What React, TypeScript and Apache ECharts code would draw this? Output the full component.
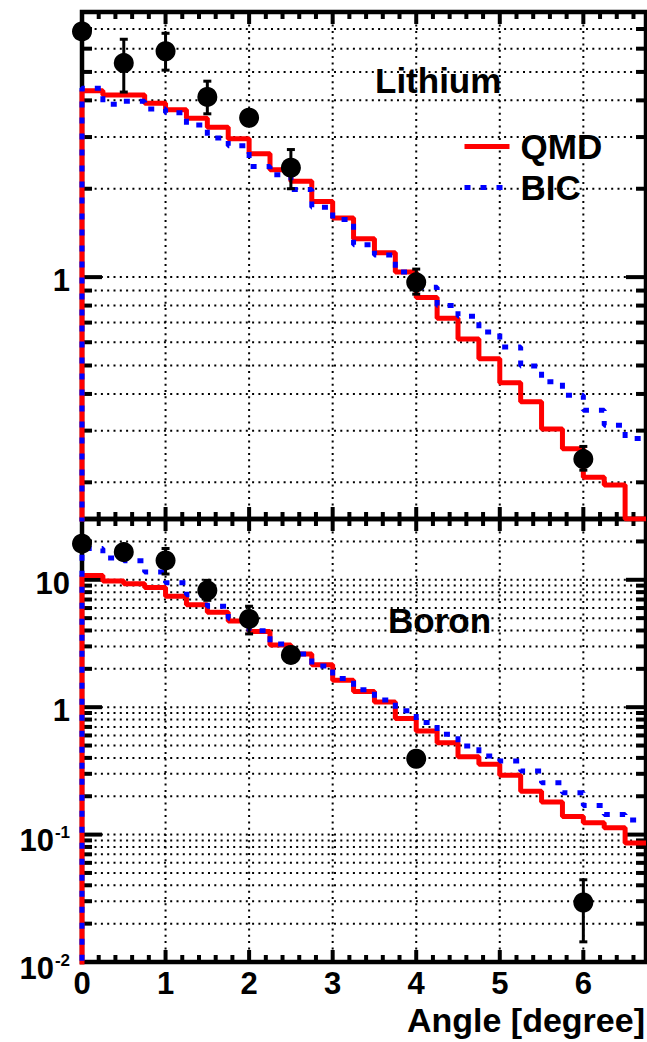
import React, { useEffect, useRef } from 'react';
import * as echarts from 'echarts';

const FONT = '"Liberation Sans", Arial, Helvetica, sans-serif';

// Bin edges of the histograms (degree)
const BIN_EDGES = [0, 0.25, 0.5, 0.75, 1, 1.25, 1.5, 1.75, 2, 2.25, 2.5, 2.75, 3, 3.25, 3.5, 3.75, 4, 4.25, 4.5, 4.75, 5, 5.25, 5.5, 5.75, 6, 6.25, 6.5, 6.75];

// Lithium panel
const LI_QMD = [4.31, 4.17, 4.17, 3.91, 3.72, 3.48, 3.24, 2.96, 2.63, 2.32, 2.12, 1.81, 1.59, 1.35, 1.21, 1.04, 0.853, 0.724, 0.616, 0.527, 0.437, 0.376, 0.304, 0.26, 0.208, 0.196, 0.15];
const LI_BIC = [4.4, 3.88, 3.97, 3.74, 3.63, 3.3, 2.98, 2.8, 2.38, 2.23, 1.99, 1.73, 1.57, 1.29, 1.19, 1.04, 0.923, 0.8, 0.736, 0.65, 0.578, 0.498, 0.44, 0.396, 0.352, 0.313, 0.282];
const LI_DATA_X = [0, 0.5, 1, 1.5, 2, 2.5, 4, 6];
const LI_DATA_Y = [6.87, 5.36, 5.88, 4.11, 3.49, 2.36, 0.96, 0.24];
const LI_DATA_LO = [6.6, 4.27, 5.07, 3.6, 3.35, 2.0, 0.875, 0.22];
const LI_DATA_HI = [7.1, 6.46, 6.77, 4.65, 3.65, 2.72, 1.065, 0.265];

// Boron panel
const B_QMD = [10.8, 9.8, 9.3, 8.7, 7.44, 6.37, 5.56, 4.74, 3.92, 3.08, 2.61, 2.15, 1.63, 1.33, 1.1, 0.814, 0.651, 0.527, 0.409, 0.356, 0.292, 0.219, 0.18, 0.139, 0.124, 0.113, 0.086];
const B_BIC = [17.6, 14.8, 14.1, 11.5, 9.47, 7.62, 6.21, 4.99, 3.99, 3.13, 2.61, 2.11, 1.68, 1.37, 1.14, 0.936, 0.757, 0.613, 0.496, 0.414, 0.378, 0.315, 0.255, 0.213, 0.169, 0.144, 0.13];
const B_DATA_X = [0, 0.5, 1, 1.5, 2, 2.5, 4, 6];
const B_DATA_Y = [19.2, 16.5, 14.2, 8.24, 4.93, 2.57, 0.394, 0.0293];
const B_DATA_LO = [18.6, 15.6, 11.1, 6.9, 3.76, 2.45, 0.38, 0.0144];
const B_DATA_HI = [19.8, 17.5, 17.6, 9.9, 6.2, 2.72, 0.41, 0.0442];

// Axis ticks / grid
const X_LABELS = [0, 1, 2, 3, 4, 5, 6];
const X_MAJOR_TICKS = [0, 1, 2, 3, 4, 5, 6];
const X_MINOR_TICKS = [0.2, 0.4, 0.6, 0.8, 1.2, 1.4, 1.6, 1.8, 2.2, 2.4, 2.6, 2.8, 3.2, 3.4, 3.6, 3.8, 4.2, 4.4, 4.6, 4.8, 5.2, 5.4, 5.6, 5.8, 6.2, 6.4, 6.6];
const X_GRID = [1, 2, 3, 4, 5, 6];
const LI_Y_MAJOR = [1];
const LI_Y_MINOR = [0.2, 0.3, 0.4, 0.5, 0.6, 0.7, 0.8, 0.9, 2, 3, 4, 5, 6, 7];
const LI_GRID_Y = [0.2, 0.3, 0.4, 0.5, 0.6, 0.7, 0.8, 0.9, 1, 2, 3, 4, 5, 6, 7];
const B_Y_MAJOR = [0.01, 0.1, 1, 10];
const B_Y_MINOR = [0.02, 0.03, 0.04, 0.05, 0.06, 0.07, 0.08, 0.09, 0.2, 0.3, 0.4, 0.5, 0.6, 0.7, 0.8, 0.9, 2, 3, 4, 5, 6, 7, 8, 9, 20];
const B_GRID_Y = [0.02, 0.03, 0.04, 0.05, 0.06, 0.07, 0.08, 0.09, 0.1, 0.2, 0.3, 0.4, 0.5, 0.6, 0.7, 0.8, 0.9, 1, 2, 3, 4, 5, 6, 7, 8, 9, 10, 20];

function stepData(values: number[]) {
  const pts: number[][] = [[0, 1e-4]];
  values.forEach((v, i) => pts.push([BIN_EDGES[i], v]));
  pts.push([BIN_EDGES[values.length], values[values.length - 1]]);
  return pts;
}

function frameItems(yMajor: number[], yMinor: number[], gridY: number[]) {
  const items: number[][] = [];
  gridY.forEach((y) => items.push([1, y, 0]));
  X_GRID.forEach((x) => items.push([x, 1, 1]));
  yMajor.forEach((y) => items.push([1, y, 2]));
  yMinor.forEach((y) => items.push([1, y, 3]));
  X_MAJOR_TICKS.forEach((x) => items.push([x, 1, 4]));
  X_MINOR_TICKS.forEach((x) => items.push([x, 1, 5]));
  return items;
}

const frameRender = (params: any, api: any) => {
  const cs = params.coordSys;
  const left = cs.x, right = cs.x + cs.width, top = cs.y, bottom = cs.y + cs.height;
  const kind = api.value(2);
  const dotted = { stroke: '#000', lineWidth: 2, lineDash: [2, 4.3] };
  const tick = { stroke: '#000', lineWidth: 4 };
  if (kind === 0) {
    const p = api.coord([1, api.value(1)]);
    return { type: 'line', shape: { x1: left, y1: p[1], x2: right, y2: p[1] }, style: dotted };
  }
  if (kind === 1) {
    const p = api.coord([api.value(0), 1]);
    return { type: 'line', shape: { x1: p[0], y1: top, x2: p[0], y2: bottom }, style: dotted };
  }
  if (kind === 2 || kind === 3) {
    const p = api.coord([1, api.value(1)]);
    const len = kind === 2 ? 20 : 10;
    return {
      type: 'group',
      children: [
        { type: 'line', shape: { x1: left, y1: p[1], x2: left + len, y2: p[1] }, style: tick },
        { type: 'line', shape: { x1: right - len, y1: p[1], x2: right, y2: p[1] }, style: tick },
      ],
    };
  }
  const p = api.coord([api.value(0), 1]);
  const len = kind === 4 ? 12 : 7;
  return {
    type: 'group',
    children: [
      { type: 'line', shape: { x1: p[0], y1: bottom - len, x2: p[0], y2: bottom }, style: tick },
      { type: 'line', shape: { x1: p[0], y1: top, x2: p[0], y2: top + len }, style: tick },
    ],
  };
};

const errRender = (params: any, api: any) => {
  const x = api.value(0);
  const pl = api.coord([x, api.value(2)]);
  const ph = api.coord([x, api.value(3)]);
  const st = { stroke: '#000', lineWidth: 3 };
  return {
    type: 'group',
    children: [
      { type: 'line', shape: { x1: pl[0], y1: pl[1], x2: ph[0], y2: ph[1] }, style: st },
      { type: 'line', shape: { x1: ph[0] - 4, y1: ph[1], x2: ph[0] + 4, y2: ph[1] }, style: st },
      { type: 'line', shape: { x1: pl[0] - 4, y1: pl[1], x2: pl[0] + 4, y2: pl[1] }, style: st },
    ],
  };
};

const labelRich = {
  n: { fontSize: 31, fontWeight: 'bold', fontFamily: FONT, color: '#000', padding: [7, 0, 0, 0] },
  b: { fontSize: 31, fontWeight: 'bold', fontFamily: FONT, color: '#000', padding: [12, 0, 0, 0] },
  s: { fontSize: 17, fontWeight: 'bold', fontFamily: FONT, color: '#000', verticalAlign: 'top', padding: [11, 0, 0, 1] },
};

function logLabel(v: number) {
  const e = Math.log10(v);
  const r = Math.round(e);
  if (Math.abs(e - r) > 1e-6) return '';
  if (r === 0) return '{n|1}';
  if (r === 1) return '{n|10}';
  return '{b|10}{s|' + r + '}';
}

const hiddenAxis = { axisLine: { show: false }, axisTick: { show: false }, splitLine: { show: false } };

export default function App() {
  const ref = useRef<HTMLDivElement>(null);
  useEffect(() => {
    const chart = echarts.init(ref.current!, null, { renderer: 'svg' });
    const option: any = {
      animation: false,
      backgroundColor: '#fff',
      grid: [
        { left: 82, right: 1, top: 12, height: 507, show: true, borderColor: '#000', borderWidth: 4.5, backgroundColor: 'transparent' },
        { left: 82, right: 1, top: 519, height: 443, show: true, borderColor: '#000', borderWidth: 4.5, backgroundColor: 'transparent' },
      ],
      xAxis: [
        { gridIndex: 0, type: 'value', min: 0, max: 6.75, interval: 1, ...hiddenAxis, axisLabel: { show: false } },
        {
          gridIndex: 1, type: 'value', min: 0, max: 6.75, interval: 1, ...hiddenAxis,
          axisLabel: {
            show: true, fontSize: 31, fontWeight: 'bold', fontFamily: FONT, color: '#000', margin: 6,
            showMaxLabel: false,
            formatter: (v: number) => (X_LABELS.indexOf(v) >= 0 ? String(v) : ''),
          },
        },
      ],
      yAxis: [
        {
          gridIndex: 0, type: 'log', logBase: 10, min: 0.15, max: 8, ...hiddenAxis,
          axisLabel: { margin: 12, formatter: (v: number) => (Math.abs(v - 1) < 1e-6 ? '{n|1}' : ''), rich: labelRich },
        },
        {
          gridIndex: 1, type: 'log', logBase: 10, min: 0.01, max: 30, ...hiddenAxis,
          axisLabel: { margin: 12, formatter: logLabel, rich: labelRich },
        },
      ],
      legend: {
        data: ['QMD', 'BIC'],
        orient: 'vertical',
        left: 462,
        top: 129,
        padding: 0,
        itemWidth: 45,
        itemHeight: 10,
        itemGap: 6,
        selectedMode: false,
        itemStyle: { opacity: 0 },
        lineStyle: { width: 5 },
        textStyle: { fontSize: 35, fontWeight: 'bold', fontFamily: FONT, color: '#000', lineHeight: 32, padding: [0, 0, 0, 6] },
      },
      graphic: [
        { type: 'text', x: 375, y: 80, z: 10, style: { text: 'Lithium', fontSize: 35, fontWeight: 'bold', fontFamily: FONT, fill: '#000', verticalAlign: 'middle', align: 'left' } },
        { type: 'text', x: 388, y: 620, z: 10, style: { text: 'Boron', fontSize: 35, fontWeight: 'bold', fontFamily: FONT, fill: '#000', verticalAlign: 'middle', align: 'left' } },
        { type: 'text', x: 645, y: 1020, z: 10, style: { text: 'Angle [degree]', fontSize: 34, fontWeight: 'bold', fontFamily: FONT, fill: '#000', verticalAlign: 'middle', align: 'right' } },
      ],
      series: [
        { type: 'custom', name: 'frameLi', xAxisIndex: 0, yAxisIndex: 0, z: 1, silent: true, renderItem: frameRender, data: frameItems(LI_Y_MAJOR, LI_Y_MINOR, LI_GRID_Y) },
        { type: 'custom', name: 'frameB', xAxisIndex: 1, yAxisIndex: 1, z: 1, silent: true, renderItem: frameRender, data: frameItems(B_Y_MAJOR, B_Y_MINOR, B_GRID_Y) },
        { type: 'line', name: 'QMD', xAxisIndex: 0, yAxisIndex: 0, z: 3, step: 'end', symbol: 'none', data: stepData(LI_QMD), lineStyle: { color: '#ff0000', width: 5 }, itemStyle: { color: '#ff0000' } },
        { type: 'line', name: 'BIC', xAxisIndex: 0, yAxisIndex: 0, z: 4, step: 'end', symbol: 'none', data: stepData(LI_BIC), lineStyle: { color: '#0000ff', width: 5, type: [6, 10] }, itemStyle: { color: '#0000ff' } },
        { type: 'line', name: 'QMD', xAxisIndex: 1, yAxisIndex: 1, z: 3, step: 'end', symbol: 'none', data: stepData(B_QMD), lineStyle: { color: '#ff0000', width: 5 }, itemStyle: { color: '#ff0000' } },
        { type: 'line', name: 'BIC', xAxisIndex: 1, yAxisIndex: 1, z: 4, step: 'end', symbol: 'none', data: stepData(B_BIC), lineStyle: { color: '#0000ff', width: 5, type: [6, 10] }, itemStyle: { color: '#0000ff' } },
        { type: 'custom', name: 'errLi', xAxisIndex: 0, yAxisIndex: 0, z: 5, renderItem: errRender, data: LI_DATA_X.map((x, i) => [x, LI_DATA_Y[i], LI_DATA_LO[i], LI_DATA_HI[i]]) },
        { type: 'custom', name: 'errB', xAxisIndex: 1, yAxisIndex: 1, z: 5, renderItem: errRender, data: B_DATA_X.map((x, i) => [x, B_DATA_Y[i], B_DATA_LO[i], B_DATA_HI[i]]) },
        { type: 'scatter', name: 'Data Li', xAxisIndex: 0, yAxisIndex: 0, z: 6, clip: false, symbol: 'circle', symbolSize: 20, itemStyle: { color: '#000', opacity: 1 }, data: LI_DATA_X.map((x, i) => [x, LI_DATA_Y[i]]) },
        { type: 'scatter', name: 'Data B', xAxisIndex: 1, yAxisIndex: 1, z: 6, clip: false, symbol: 'circle', symbolSize: 20, itemStyle: { color: '#000', opacity: 1 }, data: B_DATA_X.map((x, i) => [x, B_DATA_Y[i]]) },
      ],
    };
    chart.setOption(option);
    return () => chart.dispose();
  }, []);
  return <div ref={ref} style={{ position: 'fixed', left: 0, top: 0, width: 647, height: 1042, background: '#fff' }} />;
}
